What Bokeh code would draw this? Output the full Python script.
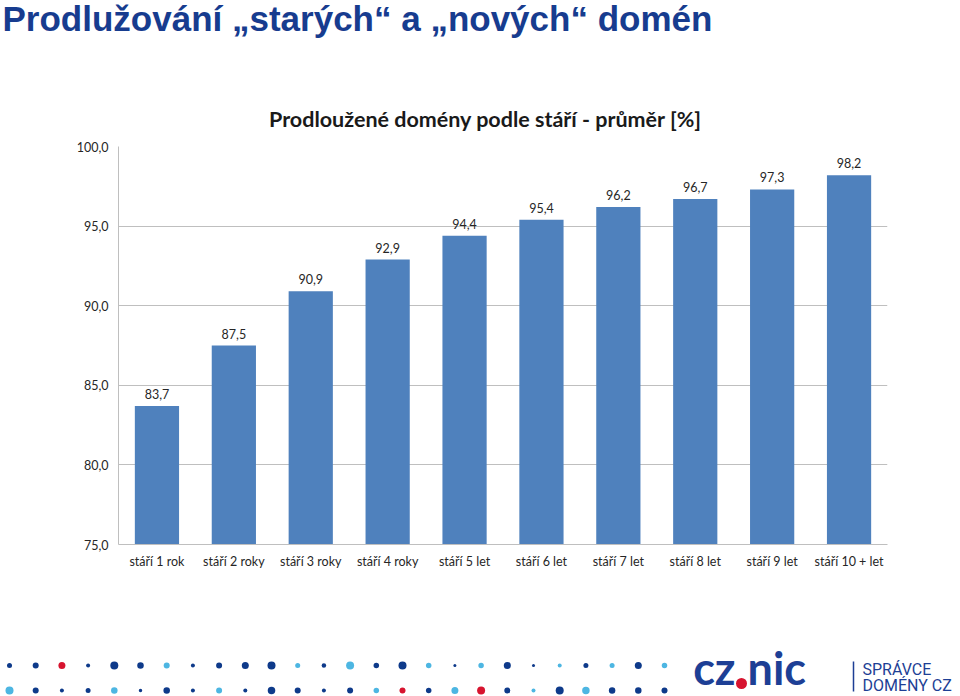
from bokeh.plotting import figure
from bokeh.models import (Range1d, FactorRange, FixedTicker, LabelSet,
                          ColumnDataSource)
from bokeh.layouts import column
from bokeh.embed import file_html
from bokeh.resources import INLINE
from bokeh.core.properties import value

# ---------------- data ----------------
categories = ["stáří 1 rok", "stáří 2 roky", "stáří 3 roky", "stáří 4 roky",
              "stáří 5 let", "stáří 6 let", "stáří 7 let", "stáří 8 let",
              "stáří 9 let", "stáří 10 + let"]
values = [83.7, 87.5, 90.9, 92.9, 94.4, 95.4, 96.2, 96.7, 97.3, 98.2]
y_ticks = [75, 80, 85, 90, 95, 100]
y_tick_labels = ["75,0", "80,0", "85,0", "90,0", "95,0", "100,0"]

headline = "Prodlužování „starých“ a „nových“ domén"
chart_title = "Prodloužené domény podle stáří - průměr [%]"

# decorative footer dots (colour key, diameter)
row1 = [("D", 5), ("D", 6), ("R", 7), ("D", 4), ("D", 8), ("D", 6.5), ("L", 6),
        ("D", 4), ("D", 6), ("D", 7), ("D", 8), ("L", 5), ("D", 4.5), ("L", 8),
        ("D", 5.5), ("D", 8), ("L", 5.5), ("D", 3), ("L", 5.5), ("D", 7),
        ("D", 3), ("L", 4), ("D", 5), ("L", 5), ("D", 7), ("L", 5.5)]
row2 = [("L", 8), ("D", 6), ("D", 4), ("D", 5), ("L", 6.5), ("D", 3.5),
        ("D", 6.5), ("D", 4), ("L", 6), ("D", 4), ("D", 7.5), ("D", 6),
        ("D", 4), ("D", 6), ("L", 5.5), ("R", 6), ("D", 5.5), ("L", 7),
        ("R", 8), ("D", 6), ("L", 4), ("D", 8), ("L", 7.5), ("D", 6.5),
        ("D", 6.5), ("D", 6)]

# ---------------- styles ----------------
BAR = "#4F81BD"
GRID = "#BFBFBF"
NAVY = "#173C8F"
DOT = {"D": "#0E3A8A", "L": "#4DB6E2", "R": "#D7142F"}
FONT = "Lato"
TXT = "#262626"

W = 960
H_HEAD, H_MAIN, H_FOOT = 136, 496, 64
F_LEFT, F_RIGHT, F_TOP, F_BOTTOM = 118, 887, 146, 544   # canvas coordinates


def deco_fig(height, y0):
    fig = figure(width=W, height=height, x_range=Range1d(0, W),
                 y_range=Range1d(y0 + height, y0), output_backend="svg",
                 toolbar_location=None, tools="", min_border=0,
                 frame_align=False)
    fig.axis.visible = False
    fig.grid.visible = False
    fig.outline_line_color = None
    return fig


# ---------------- header ----------------
h = deco_fig(H_HEAD, 0)
h.text(x=[2], y=[18], text=[headline], text_font=value("Liberation Sans"),
       text_font_style="bold", text_font_size="35px", text_color=NAVY,
       text_baseline="middle", text_align="left")
h.text(x=[485], y=[118], text=[chart_title], text_font=value(FONT),
       text_font_style="bold", text_font_size="21.5px", text_color="#1a1a1a",
       text_baseline="middle", text_align="center")

# ---------------- main chart ----------------
p = figure(width=W, height=H_MAIN, x_range=FactorRange(*categories),
           y_range=Range1d(75, 100), output_backend="svg",
           toolbar_location=None, tools="", frame_align=False,
           min_border_left=F_LEFT, min_border_right=W - F_RIGHT,
           min_border_top=F_TOP - H_HEAD,
           min_border_bottom=H_HEAD + H_MAIN - F_BOTTOM)
p.outline_line_color = None

src = ColumnDataSource(dict(cat=categories, val=values,
                            lab=[f"{v:.1f}".replace(".", ",") for v in values]))
p.vbar(x="cat", top="val", bottom=75, width=0.575, source=src,
       fill_color=BAR, line_color=None)

p.add_layout(LabelSet(x="cat", y="val", text="lab", source=src,
                      y_offset=12, text_align="center", text_baseline="middle",
                      text_font=value(FONT), text_font_size="12.5px",
                      text_color=TXT))

p.yaxis.ticker = FixedTicker(ticks=y_ticks)
p.yaxis.major_label_overrides = {t: s for t, s in zip(y_ticks, y_tick_labels)}
p.yaxis.major_tick_line_color = None
p.yaxis.minor_tick_line_color = None
p.yaxis.axis_line_color = GRID
p.yaxis.major_label_standoff = 4
p.yaxis.major_label_text_font = FONT
p.yaxis.major_label_text_font_size = "12.5px"
p.yaxis.major_label_text_color = TXT

p.xaxis.major_tick_line_color = None
p.xaxis.minor_tick_line_color = None
p.xaxis.axis_line_color = GRID
p.xaxis.major_label_standoff = 3
p.xaxis.major_label_text_font = FONT
p.xaxis.major_label_text_font_size = "12.5px"
p.xaxis.major_label_text_color = TXT

p.xgrid.grid_line_color = None
p.ygrid.grid_line_color = GRID
p.ygrid.ticker = FixedTicker(ticks=y_ticks)

# ---------------- footer ----------------
f = deco_fig(H_FOOT, H_HEAD + H_MAIN)
for row, yy in ((row1, 665), (row2, 690)):
    xs = [9 + 26.2 * i for i in range(len(row))]
    f.scatter(x=xs, y=[yy] * len(row), size=[s for _, s in row],
              fill_color=[DOT[c] for c, _ in row], line_color=None)

LOGO = "#1D3F95"
f.text(x=[735], y=[667], text=["cz"], text_font=value(FONT), text_font_style="bold",
       text_font_size="45px", text_color=LOGO, text_align="right",
       text_baseline="middle")
f.text(x=[747], y=[667], text=["nic"], text_font=value(FONT), text_font_style="bold",
       text_font_size="45px", text_color=LOGO, text_align="left",
       text_baseline="middle")
f.scatter(x=[741], y=[683], size=11, fill_color=DOT["R"], line_color=None)
f.segment(x0=[853], y0=[661], x1=[853], y1=[691], line_color=LOGO, line_width=1.5)
f.text(x=[862], y=[669], text=["SPRÁVCE"], text_font=value("Roboto"),
       text_font_size="16px", text_color=LOGO, text_baseline="middle")
f.text(x=[862], y=[685], text=["DOMÉNY CZ"], text_font=value("Roboto"),
       text_font_size="16px", text_color=LOGO, text_baseline="middle")

layout = column(h, p, f, spacing=0)
open("out.html", "w").write(file_html(layout, INLINE))
